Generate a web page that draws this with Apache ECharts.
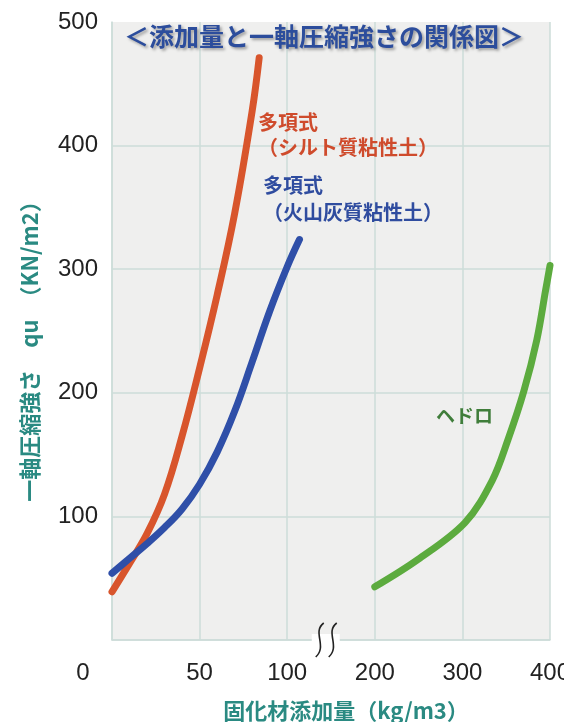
<!DOCTYPE html>
<html>
<head>
<meta charset="utf-8">
<script src="https://cdn.jsdelivr.net/npm/echarts@6/dist/echarts.min.js"></script>
<style>
html, body { margin: 0; padding: 0; background: #fff; }
#chart { width: 564px; height: 722px; }
</style>
</head>
<body>
<div id="chart"></div>
<script>
// x tick labels (axis is split: 0-100 then 200-400)
const xTicks = ['0', '50', '100', '200', '300', '400']

// 多項式（シルト質粘性土）
const siltX = [0, 10, 20, 30, 40, 50, 60, 70, 80, 84]
const siltY = [39, 62, 86, 118, 165, 220, 279, 345, 428, 471]

// 多項式（火山灰質粘性土）
const ashX = [0, 10, 20, 30, 40, 50, 60, 70, 80, 90, 100, 107]
const ashY = [54, 66, 78, 91, 106, 126, 152, 185, 225, 266, 302, 324]

// ヘドロ
const sludgeX = [200, 249, 303, 334, 352, 370, 385, 395, 400]
const sludgeY = [43, 65, 95, 129, 162, 201, 243, 283, 303]

// kg/m3 -> position on the broken axis (1 unit per gridline)
function xPos (kg) {
    return kg < 150 ? kg / 50 : 3 + (kg - 200) / 100
}

function pairs (xs, ys) {
    return xs.map((x, i) => [xPos(x), ys[i]])
}

const chart = echarts.init(document.getElementById('chart'))
const gridColor = '#cddcd9'
const teal = '#2a8a82'
const numFont = 'Liberation Sans Narrow, Liberation Sans, sans-serif'

const option = {
    backgroundColor: '#ffffff',
    title: {
        text: '＜添加量と一軸圧縮強さの関係図＞',
        left: 119,
        top: 19,
        textStyle: {
            fontFamily: 'Noto Sans CJK JP',
            fontSize: 25,
            fontWeight: 'bold',
            color: '#2c4d9c',
            textShadowColor: 'rgba(0,0,0,0.35)',
            textShadowBlur: 3,
            textShadowOffsetX: 2,
            textShadowOffsetY: 2
        }
    },
    grid: {
        left: 112,
        right: 14,
        top: 22,
        bottom: 82,
        containLabel: false,
        outerBoundsMode: 'none',
        show: true,
        backgroundColor: '#efefee',
        borderWidth: 0
    },
    xAxis: {
        type: 'value',
        min: 0,
        max: 5,
        interval: 1,
        name: '固化材添加量（kg/m3）',
        nameLocation: 'middle',
        nameGap: 60,
        nameTextStyle: {
            fontFamily: 'Noto Sans CJK JP',
            fontSize: 22,
            fontWeight: 'bold',
            color: teal,
            padding: [0, 0, 0, 30]
        },
        axisLine: { lineStyle: { color: gridColor, width: 1.5 } },
        axisTick: { show: false },
        splitLine: { show: true, lineStyle: { color: gridColor, width: 1.5 } },
        axisLabel: {
            margin: 21,
            fontFamily: numFont,
            fontSize: 24,
            color: '#222',
            formatter: function (v) {
                const t = xTicks[Math.round(v)]
                return v === 0 ? '{z|' + t + '}' : t
            },
            rich: {
                z: {
                    fontFamily: numFont,
                    fontSize: 24,
                    color: '#222',
                    padding: [0, 58, 0, 0]
                }
            }
        }
    },
    yAxis: {
        type: 'value',
        min: 0,
        max: 500,
        interval: 100,
        name: '一軸圧縮強さ　qu　（KN/m2）',
        nameLocation: 'middle',
        nameGap: 71,
        nameTextStyle: {
            fontFamily: 'Noto Sans CJK JP',
            fontSize: 22,
            fontWeight: 'bold',
            color: teal,
            padding: [0, 30, 0, 0]
        },
        axisLine: { show: true, lineStyle: { color: gridColor, width: 1.5 } },
        axisTick: { show: false },
        splitLine: { show: true, showMaxLine: false, lineStyle: { color: gridColor, width: 1.5 } },
        axisLabel: {
            margin: 14,
            fontFamily: numFont,
            fontSize: 24,
            color: '#222',
            formatter: function (v) {
                return v === 0 ? '' : String(v)
            }
        }
    },
    series: [
        {
            name: '多項式（シルト質粘性土）',
            type: 'line',
            data: pairs(siltX, siltY),
            smooth: 0.4,
            showSymbol: false,
            lineStyle: { color: '#d8552c', width: 7, cap: 'round' }
        },
        {
            name: '多項式（火山灰質粘性土）',
            type: 'line',
            data: pairs(ashX, ashY),
            smooth: 0.4,
            showSymbol: false,
            lineStyle: { color: '#2f4fa8', width: 7, cap: 'round' }
        },
        {
            name: 'ヘドロ',
            type: 'line',
            data: pairs(sludgeX, sludgeY),
            smooth: 0.35,
            showSymbol: false,
            lineStyle: { color: '#5cab3e', width: 7, cap: 'round' }
        }
    ]
}

chart.setOption(option)

// axis break mark and curve captions
const brk = chart.convertToPixel({ gridIndex: 0 }, [2.44, 0])
const bx = brk[0]
const by = brk[1]

chart.setOption({
    graphic: [
        {
            type: 'rect',
            shape: { x: bx - 14, y: by - 6, width: 28, height: 12 },
            style: { fill: '#ffffff' },
            z: 10
        },
        {
            type: 'bezierCurve',
            shape: { x1: bx - 2, y1: by - 17, cpx1: bx - 14, cpy1: by - 8, cpx2: bx + 2, cpy2: by + 6, x2: bx - 10, y2: by + 17 },
            style: { stroke: '#222', lineWidth: 1.6, fill: null },
            z: 11
        },
        {
            type: 'bezierCurve',
            shape: { x1: bx + 11, y1: by - 17, cpx1: bx - 1, cpy1: by - 8, cpx2: bx + 15, cpy2: by + 6, x2: bx + 3, y2: by + 17 },
            style: { stroke: '#222', lineWidth: 1.6, fill: null },
            z: 11
        },
        {
            type: 'text',
            left: 258,
            top: 110,
            style: {
                text: '多項式\n（シルト質粘性土）',
                fontFamily: 'Noto Sans CJK JP',
                fontSize: 20,
                fontWeight: 'bold',
                lineHeight: 25,
                fill: '#cf4b2c'
            }
        },
        {
            type: 'text',
            left: 263,
            top: 172,
            style: {
                text: '多項式\n（火山灰質粘性土）',
                fontFamily: 'Noto Sans CJK JP',
                fontSize: 20,
                fontWeight: 'bold',
                lineHeight: 27,
                fill: '#2f4c9f'
            }
        },
        {
            type: 'text',
            left: 436,
            top: 406,
            style: {
                text: 'ヘドロ',
                fontFamily: 'Noto Sans CJK JP',
                fontSize: 19,
                fontWeight: 'bold',
                fill: '#3f7d3a'
            }
        }
    ]
})
</script>
</body>
</html>
